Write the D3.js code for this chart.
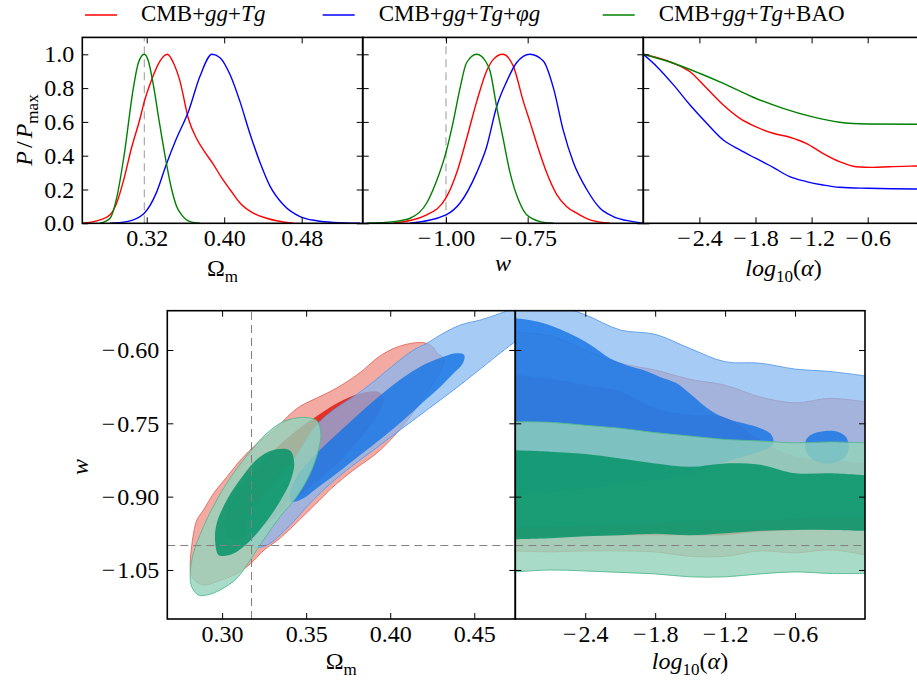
<!DOCTYPE html>
<html>
<head>
<meta charset="utf-8">
<script src="https://cdn.jsdelivr.net/npm/d3@7"></script>
<style>
  body { margin: 0; background: #fff; }
  svg text { font-family: "Liberation Serif", "Times New Roman", serif; fill: #000; }
</style>
</head>
<body>
<svg id="chart" width="917" height="686"></svg>
<script>
// ---------- 1D marginals, P/Pmax ----------
var omRedX = [0.2535, 0.2718, 0.2822, 0.289, 0.2959, 0.3045, 0.3131, 0.3175, 0.3251, 0.3337, 0.3413, 0.3475, 0.3544, 0.363, 0.3716, 0.3802, 0.3887, 0.3973, 0.406, 0.4163, 0.43, 0.4438, 0.4713];
var omRedP = [0, 0.02, 0.05, 0.12, 0.25, 0.45, 0.62, 0.72, 0.85, 0.96, 1.0, 0.95, 0.84, 0.62, 0.5, 0.42, 0.35, 0.27, 0.2, 0.12, 0.06, 0.03, 0];
var omBlueX = [0.2822, 0.2994, 0.3175, 0.3299, 0.3403, 0.3506, 0.363, 0.375, 0.3874, 0.3957, 0.406, 0.4163, 0.4266, 0.437, 0.4473, 0.4611, 0.4783, 0.4955, 0.5127, 0.54];
var omBlueP = [0, 0.01, 0.06, 0.18, 0.35, 0.5, 0.66, 0.87, 1.0, 0.98, 0.88, 0.72, 0.53, 0.36, 0.22, 0.11, 0.04, 0.015, 0.005, 0];
var omGreenX = [0.2718, 0.2822, 0.289, 0.2966, 0.3062, 0.3114, 0.3175, 0.3217, 0.3268, 0.333, 0.3389, 0.3458, 0.3509, 0.3561, 0.3647, 0.375];
var omGreenP = [0, 0.03, 0.15, 0.4, 0.8, 0.95, 1.0, 0.96, 0.82, 0.6, 0.4, 0.2, 0.1, 0.05, 0.01, 0];

var wRedX = [-1.161, -1.059, -1.0, -0.967, -0.937, -0.906, -0.876, -0.855, -0.8265, -0.794, -0.763, -0.743, -0.722, -0.692, -0.661, -0.631, -0.600, -0.559, -0.498];
var wRedP = [0, 0.05, 0.15, 0.3, 0.5, 0.72, 0.9, 0.97, 1.0, 0.93, 0.72, 0.6, 0.47, 0.3, 0.17, 0.1, 0.06, 0.02, 0];
var wBlueX = [-1.110, -1.0, -0.957, -0.906, -0.876, -0.845, -0.814, -0.784, -0.743, -0.702, -0.671, -0.641, -0.610, -0.569, -0.529, -0.488, -0.427, -0.396];
var wBlueP = [0, 0.05, 0.12, 0.3, 0.45, 0.69, 0.84, 0.95, 1.0, 0.96, 0.8, 0.55, 0.36, 0.2, 0.09, 0.04, 0.01, 0];
var wGreenX = [-1.243, -1.161, -1.110, -1.059, -1.029, -1.0, -0.978, -0.957, -0.937, -0.906, -0.876, -0.865, -0.845, -0.825, -0.804, -0.774, -0.753, -0.712, -0.671];
var wGreenP = [0, 0.01, 0.03, 0.12, 0.25, 0.42, 0.6, 0.8, 0.95, 1.0, 0.95, 0.9, 0.69, 0.5, 0.3, 0.12, 0.05, 0.01, 0];

var aRedX = [-3.0, -2.677, -2.5, -2.322, -2.144, -1.967, -1.8, -1.612, -1.434, -1.257, -1.08, -0.902, -0.724, -0.547, -0.37, -0.082, 0.0];
var aRedP = [1.0, 0.947, 0.897, 0.799, 0.70, 0.621, 0.572, 0.533, 0.509, 0.473, 0.414, 0.365, 0.335, 0.331, 0.335, 0.339, 0.34];
var aBlueX = [-3.0, -2.854, -2.677, -2.5, -2.322, -2.144, -1.967, -1.8, -1.612, -1.434, -1.257, -1.08, -0.902, -0.6, -0.082, 0.0];
var aBlueP = [1.0, 0.927, 0.819, 0.70, 0.592, 0.493, 0.434, 0.385, 0.331, 0.276, 0.247, 0.227, 0.213, 0.207, 0.203, 0.203];
var aGreenX = [-3.0, -2.677, -2.4, -2.144, -1.8, -1.505, -1.2, -0.902, -0.6, -0.082, 0.0];
var aGreenP = [1.0, 0.947, 0.888, 0.828, 0.74, 0.68, 0.631, 0.598, 0.588, 0.586, 0.586];

// ---------- 2D contours in (Omega_m, w) ----------
var redOuterL = [[0.281, -1.043], [0.283, -0.975], [0.285, -0.948], [0.289, -0.927], [0.295, -0.893], [0.303, -0.859], [0.311, -0.825], [0.321, -0.791], [0.331, -0.764], [0.339, -0.736], [0.346, -0.716], [0.354, -0.702], [0.366, -0.682], [0.376, -0.661], [0.384, -0.641], [0.392, -0.617], [0.400, -0.600], [0.410, -0.588], [0.420, -0.585], [0.425, -0.593], [0.428, -0.607], [0.432, -0.617], [0.432, -0.627], [0.428, -0.655], [0.420, -0.696], [0.412, -0.736], [0.402, -0.777], [0.392, -0.811], [0.378, -0.846], [0.366, -0.880], [0.358, -0.907], [0.350, -0.934], [0.342, -0.961], [0.333, -0.989], [0.325, -1.009], [0.317, -1.037], [0.309, -1.057], [0.299, -1.071], [0.290, -1.081], [0.286, -1.077], [0.282, -1.064]];
var redInnerL = [[0.303, -0.982], [0.301, -0.955], [0.304, -0.921], [0.311, -0.880], [0.321, -0.839], [0.333, -0.798], [0.346, -0.760], [0.356, -0.736], [0.370, -0.706], [0.382, -0.689], [0.392, -0.685], [0.396, -0.696], [0.394, -0.723], [0.386, -0.764], [0.376, -0.805], [0.364, -0.846], [0.350, -0.886], [0.338, -0.921], [0.327, -0.955], [0.315, -0.979], [0.307, -0.985]];
var blueOuterL = [[0.3143, -0.9683], [0.3151, -0.941], [0.3206, -0.9137], [0.3306, -0.8728], [0.3425, -0.8251], [0.3563, -0.7535], [0.3663, -0.7228], [0.3782, -0.6955], [0.3901, -0.6648], [0.4020, -0.6307], [0.4139, -0.600], [0.4218, -0.5864], [0.4298, -0.5693], [0.4417, -0.5489], [0.4536, -0.5386], [0.4655, -0.525], [0.4734, -0.5148], [0.4853, -0.4977], [0.4853, -0.5591], [0.4744, -0.583], [0.4615, -0.6171], [0.4516, -0.6443], [0.4377, -0.6818], [0.4218, -0.7228], [0.4059, -0.7637], [0.3901, -0.8046], [0.3742, -0.8455], [0.3603, -0.8864], [0.3504, -0.9205], [0.3425, -0.9512], [0.3345, -0.9785], [0.3286, -0.9956], [0.3226, -1.0037], [0.3177, -1.001], [0.3151, -0.9874]];
var blueInnerL = [[0.3415, -0.9103], [0.3405, -0.8899], [0.3444, -0.8592], [0.3524, -0.8251], [0.3623, -0.791], [0.3742, -0.7535], [0.3861, -0.7159], [0.3980, -0.6818], [0.4099, -0.6511], [0.4218, -0.6273], [0.4317, -0.6136], [0.4397, -0.6068], [0.4440, -0.6102], [0.4432, -0.6273], [0.4377, -0.6477], [0.4298, -0.675], [0.4198, -0.7057], [0.4079, -0.7432], [0.3960, -0.7773], [0.3821, -0.8148], [0.3683, -0.8523], [0.3563, -0.883], [0.3484, -0.9035]];
var greenOuterL = [[0.2859, -1.1013], [0.2819, -1.0842], [0.2810, -1.0569], [0.2829, -1.016], [0.2889, -0.9615], [0.2968, -0.9069], [0.3067, -0.8523], [0.3167, -0.808], [0.3266, -0.7705], [0.3365, -0.7466], [0.3484, -0.7378], [0.3563, -0.7446], [0.3587, -0.7705], [0.3573, -0.8046], [0.3524, -0.8523], [0.3444, -0.9001], [0.3345, -0.941], [0.3246, -0.9887], [0.3167, -1.0297], [0.3087, -1.0672], [0.2988, -1.091], [0.2909, -1.1013]];
var greenInnerL = [[0.2978, -1.0194], [0.2958, -0.9887], [0.2968, -0.9546], [0.3028, -0.9069], [0.3127, -0.8558], [0.3226, -0.8182], [0.3325, -0.8032], [0.3405, -0.806], [0.3429, -0.8319], [0.3409, -0.866], [0.3349, -0.9069], [0.3270, -0.9478], [0.3171, -0.9887], [0.3071, -1.016], [0.3008, -1.0215]];

// ---------- 2D contours in (log10 alpha, w): band edges on a common alpha grid ----------
var alphaGrid = [-3.0, -2.7, -2.4, -2.1, -1.8, -1.5, -1.2, -0.9, -0.6, -0.3, 0.0];
var blueOuterTopR = [-0.498, -0.505, -0.528, -0.559, -0.568, -0.597, -0.624, -0.627, -0.639, -0.644, -0.653];
var blueOuterBotR = [-0.962, -0.962, -0.960, -0.957, -0.953, -0.948, -0.948, -0.948, -0.945, -0.942, -0.941];
var redOuterTopR = [-0.563, -0.571, -0.600, -0.627, -0.641, -0.660, -0.672, -0.696, -0.708, -0.699, -0.706];
var redOuterBotR = [-1.011, -1.013, -1.011, -1.011, -1.013, -1.022, -1.022, -1.011, -1.015, -1.009, -1.019];
var redInnerTopR = [-0.651, -0.659, -0.672, -0.685, -0.719, -0.733, -0.738, -0.784, -0.818, -0.825, -0.832];
var redInnerBotR = [-0.983, -0.982, -0.979, -0.979, -0.979, -0.979, -0.979, -0.972, -0.968, -0.968, -0.968];
var greenOuterTopR = [-0.747, -0.748, -0.754, -0.760, -0.769, -0.776, -0.783, -0.786, -0.790, -0.788, -0.790];
var greenOuterBotR = [-1.054, -1.050, -1.052, -1.055, -1.058, -1.064, -1.064, -1.058, -1.054, -1.057, -1.057];
var greenInnerTopR = [-0.805, -0.808, -0.813, -0.822, -0.832, -0.839, -0.832, -0.835, -0.852, -0.852, -0.856];
var greenInnerBotR = [-0.987, -0.985, -0.981, -0.979, -0.976, -0.979, -0.975, -0.970, -0.968, -0.968, -0.970];
var blueInnerR = [[-3.3, -0.535], [-3.0, -0.535], [-2.765, -0.545], [-2.477, -0.573], [-2.334, -0.593], [-2.19, -0.617], [-2.047, -0.631], [-1.903, -0.641], [-1.76, -0.655], [-1.616, -0.668], [-1.473, -0.695], [-1.329, -0.723], [-1.186, -0.740], [-1.042, -0.75], [-0.898, -0.760], [-0.812, -0.771], [-0.784, -0.788], [-0.812, -0.798], [-1.042, -0.818], [-1.329, -0.839], [-1.559, -0.859], [-1.903, -0.869], [-2.477, -0.886], [-3.0, -0.897], [-3.3, -0.897]];
var blueBlobR = [[-0.511, -0.788], [-0.468, -0.774], [-0.353, -0.766], [-0.238, -0.767], [-0.166, -0.777], [-0.138, -0.798], [-0.166, -0.818], [-0.267, -0.831], [-0.353, -0.832], [-0.439, -0.825], [-0.497, -0.811]];

// ---------- ticks, reference values, legend ----------
var pTicks = [0, 0.2, 0.4, 0.6, 0.8, 1.0];
var omTicksTop = [0.32, 0.40, 0.48];
var wTicksTop = [-1.00, -0.75];
var alphaTicks = [-2.4, -1.8, -1.2, -0.6];
var omTicksBot = [0.30, 0.35, 0.40, 0.45];
var wTicksBot = [-0.60, -0.75, -0.90, -1.05];
var omFid = 0.3175, wFid = -1.0;

var legendParts = [
  [{t: "CMB+"}, {t: "gg", i: 1}, {t: "+"}, {t: "Tg", i: 1}],
  [{t: "CMB+"}, {t: "gg", i: 1}, {t: "+"}, {t: "Tg", i: 1}, {t: "+"}, {t: "\u03c6g", i: 1}],
  [{t: "CMB+"}, {t: "gg", i: 1}, {t: "+"}, {t: "Tg", i: 1}, {t: "+BAO"}]
];
var lineColors = ["#ff0000", "#0000ff", "#008000"];

// ---------- drawing ----------
var svg = d3.select("#chart");
var FONT = 24;
var SERIF = '"Liberation Serif", "Times New Roman", serif';

var xOm1 = d3.scaleLinear().domain([0.2535, 0.543]).range([82.3, 362.7]);
var xW1 = d3.scaleLinear().domain([-1.255, -0.396]).range([362.7, 643.3]);
var xA1 = d3.scaleLinear().domain([-3, 0]).range([643.3, 923.8]);
var yP = d3.scaleLinear().domain([0, 1.1]).range([223.3, 37.4]);
var xOm2 = d3.scaleLinear().domain([0.2674, 0.4744]).range([167.3, 515.3]);
var xA2 = d3.scaleLinear().domain([-3, 0]).range([515.3, 865]);
var yW = d3.scaleLinear().domain([-1.1503, -0.5196]).range([619, 310.7]);

function zip(a, b) { return a.map(function (v, i) { return [v, b[i]]; }); }

function rich(text, parts, size) {
  var shift = 0;
  parts.forEach(function (p) {
    var ts = text.append("tspan").text(p.t);
    if (p.i) ts.style("font-style", "italic");
    if (p.dx) ts.attr("dx", p.dx);
    var want = p.sub ? Math.round(size * 0.25) : 0;
    if (want !== shift) { ts.attr("dy", want - shift); shift = want; }
    if (p.sub) ts.style("font-size", Math.round(size * 0.7) + "px");
  });
  return text;
}

var clipN = 0;
function panel(x, y) {
  var id = "clip" + (clipN++);
  var xr = x.range(), yr = y.range();
  svg.append("clipPath").attr("id", id).append("rect")
    .attr("x", xr[0]).attr("y", yr[1]).attr("width", xr[1] - xr[0]).attr("height", yr[0] - yr[1]);
  return svg.append("g").attr("clip-path", "url(#" + id + ")");
}

function axes(x, y, o) {
  var xr = x.range(), yr = y.range();
  var g = svg.append("g");
  var b = g.append("g").attr("transform", "translate(0," + yr[0] + ")")
    .call(d3.axisBottom(x).tickValues(o.xt).tickSize(-6).tickFormat(d3.format(o.xf)));
  b.selectAll("text").attr("y", 23).attr("dy", null);
  g.append("g").attr("transform", "translate(0," + yr[1] + ")")
    .call(d3.axisTop(x).tickValues(o.xt).tickSize(-6).tickFormat(""));
  g.append("g").attr("transform", "translate(" + xr[0] + ",0)")
    .call(d3.axisLeft(y).tickValues(o.yt).tickSize(-6).tickPadding(o.yp || 8)
      .tickFormat(o.yf ? d3.format(o.yf) : ""));
  g.append("g").attr("transform", "translate(" + xr[1] + ",0)")
    .call(d3.axisRight(y).tickValues(o.yt).tickSize(-6).tickFormat(""));
  g.selectAll(".domain").remove();
  g.selectAll("text").style("font-size", FONT + "px").style("font-family", SERIF);
  // TeX-like minus: a little wider than the serif one
  g.selectAll(".tick text").each(function () {
    var t = d3.select(this), s = t.text();
    if (s.charAt(0) === "\u2212") {
      t.text(null);
      t.append("tspan").text("\u2212");
      t.append("tspan").attr("dx", 2).text(s.slice(1));
    }
  });
  g.selectAll(".tick line").attr("stroke", "#000").attr("stroke-width", 1);
  g.append("rect").attr("x", xr[0]).attr("y", yr[1])
    .attr("width", xr[1] - xr[0]).attr("height", yr[0] - yr[1])
    .attr("fill", "none").attr("stroke", "#000").attr("stroke-width", 1.6);
}

function vdash(g, x, y, v, col) {
  g.append("line").attr("x1", x(v)).attr("x2", x(v))
    .attr("y1", y.range()[0]).attr("y2", y.range()[1])
    .attr("stroke", col).attr("stroke-width", 1).attr("stroke-dasharray", "8,5");
}
function hdash(g, x, y, v, col) {
  g.append("line").attr("y1", y(v)).attr("y2", y(v))
    .attr("x1", x.range()[0]).attr("x2", x.range()[1])
    .attr("stroke", col).attr("stroke-width", 1).attr("stroke-dasharray", "8,5");
}

// top row: 1D curves
function curves(g, x, sets) {
  var line = d3.line().x(function (d) { return x(d[0]); }).y(function (d) { return yP(d[1]); })
    .curve(d3.curveMonotoneX);
  sets.forEach(function (s, i) {
    g.append("path").attr("d", line(zip(s[0], s[1])))
      .attr("fill", "none").attr("stroke", lineColors[i]).attr("stroke-width", 1.4);
  });
}

var g1 = panel(xOm1, yP);
vdash(g1, xOm1, yP, omFid, "#999");
curves(g1, xOm1, [[omRedX, omRedP], [omBlueX, omBlueP], [omGreenX, omGreenP]]);
axes(xOm1, yP, {xt: omTicksTop, xf: ".2f", yt: pTicks, yf: ".1f", yp: 8});

var g2 = panel(xW1, yP);
vdash(g2, xW1, yP, wFid, "#999");
curves(g2, xW1, [[wRedX, wRedP], [wBlueX, wBlueP], [wGreenX, wGreenP]]);
axes(xW1, yP, {xt: wTicksTop, xf: ".2f", yt: pTicks});

var g3 = panel(xA1, yP);
curves(g3, xA1, [[aRedX, aRedP], [aBlueX, aBlueP], [aGreenX, aGreenP]]);
axes(xA1, yP, {xt: alphaTicks, xf: ".1f", yt: pTicks});

// bottom row: 2D contours (68% inner, 95% outer), drawn red, blue, green
var fills = {
  redOuter: {fill: "#ee8e84", op: 0.75, line: "#e06a60"},
  redInner: {fill: "#e22217", op: 0.9},
  blueOuter: {fill: "#83b7f1", op: 0.72, line: "#5c9ce8"},
  blueInner: {fill: "#1473e6", op: 0.8},
  greenOuter: {fill: "#92d3ba", op: 0.8, line: "#56b890"},
  greenInner: {fill: "#059469", op: 0.85}
};

var g4 = panel(xOm2, yW);
var contourLine = d3.line().x(function (d) { return xOm2(d[0]); }).y(function (d) { return yW(d[1]); })
  .curve(d3.curveCatmullRomClosed.alpha(0.5));
[["redOuter", redOuterL], ["redInner", redInnerL], ["blueOuter", blueOuterL], ["blueInner", blueInnerL],
 ["greenOuter", greenOuterL], ["greenInner", greenInnerL]].forEach(function (c) {
  var s = fills[c[0]];
  g4.append("path").attr("d", contourLine(c[1])).attr("fill", s.fill).attr("fill-opacity", s.op)
    .attr("stroke", s.line || "none").attr("stroke-width", 0.9);
});
vdash(g4, xOm2, yW, omFid, "#808080");
hdash(g4, xOm2, yW, wFid, "#808080");
axes(xOm2, yW, {xt: omTicksBot, xf: ".2f", yt: wTicksBot, yf: ".2f", yp: 8});

var g5 = panel(xA2, yW);
var bandArea = d3.area().x(function (d) { return xA2(d[0]); })
  .y0(function (d) { return yW(d[1]); }).y1(function (d) { return yW(d[2]); })
  .curve(d3.curveCatmullRom.alpha(0.5));
var edgeLine = d3.line().x(function (d) { return xA2(d[0]); }).y(function (d) { return yW(d[1]); })
  .curve(d3.curveCatmullRom.alpha(0.5));
var blobLine = d3.line().x(function (d) { return xA2(d[0]); }).y(function (d) { return yW(d[1]); })
  .curve(d3.curveCatmullRomClosed.alpha(0.5));
function band(key, top, bot) {
  var s = fills[key];
  var rows = alphaGrid.map(function (a, i) { return [a, bot[i], top[i]]; });
  g5.append("path").attr("d", bandArea(rows)).attr("fill", s.fill).attr("fill-opacity", s.op);
  if (s.line) {
    [top, bot].forEach(function (e) {
      g5.append("path").attr("d", edgeLine(zip(alphaGrid, e))).attr("fill", "none")
        .attr("stroke", s.line).attr("stroke-width", 0.9);
    });
  }
}
band("redOuter", redOuterTopR, redOuterBotR);
band("redInner", redInnerTopR, redInnerBotR);
band("blueOuter", blueOuterTopR, blueOuterBotR);
[blueInnerR, blueBlobR].forEach(function (p) {
  g5.append("path").attr("d", blobLine(p)).attr("fill", fills.blueInner.fill)
    .attr("fill-opacity", fills.blueInner.op);
});
band("greenOuter", greenOuterTopR, greenOuterBotR);
band("greenInner", greenInnerTopR, greenInnerBotR);
hdash(g5, xA2, yW, wFid, "#808080");
axes(xA2, yW, {xt: alphaTicks, xf: ".1f", yt: wTicksBot});

// axis labels
var omLabel = [{t: "\u03a9"}, {t: "m", sub: 1}];
var aLabel = [{t: "log", i: 1}, {t: "10", sub: 1}, {t: "("}, {t: "\u03b1", i: 1}, {t: ")"}];
function label(x, y, parts, rot) {
  var t = svg.append("text").attr("text-anchor", "middle").style("font-size", FONT + "px")
    .attr("transform", "translate(" + x + "," + y + ")" + (rot ? " rotate(-90)" : ""));
  rich(t, parts, FONT);
}
label(222.5, 276, omLabel);
label(503, 271, [{t: "w", i: 1}]);
label(783.5, 276, aLabel);
label(341.3, 669, omLabel);
label(690, 669, aLabel);
label(32, 130, [{t: "P", i: 1}, {t: "/", dx: 3}, {t: "P", i: 1, dx: 3}, {t: "max", sub: 1}], true);
label(88, 467, [{t: "w", i: 1}], true);

// legend
var legX = [85, 322.7, 602.7];
legendParts.forEach(function (parts, i) {
  svg.append("line").attr("x1", legX[i]).attr("x2", legX[i] + 32).attr("y1", 15).attr("y2", 15)
    .attr("stroke", lineColors[i]).attr("stroke-width", 1.5);
  var t = svg.append("text").attr("x", legX[i] + 56).attr("y", 21).style("font-size", "23px");
  rich(t, parts, 23);
});
</script>
</body>
</html>
